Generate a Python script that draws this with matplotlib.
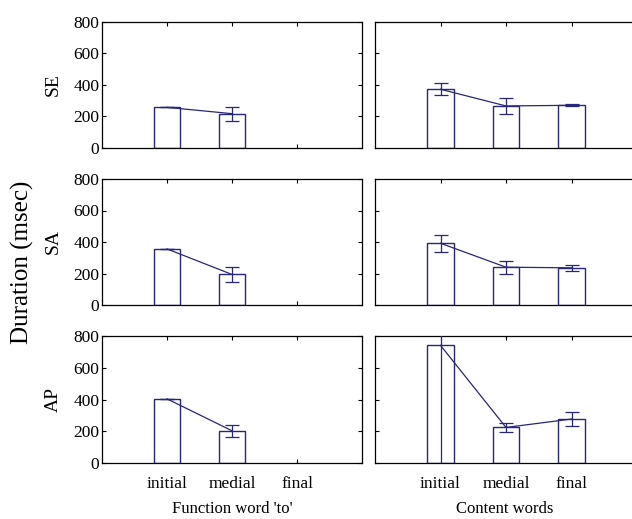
import matplotlib.pyplot as plt

# DATA
positions = ['initial', 'medial', 'final']
speakers = ['SE', 'SA', 'AP']

func_means = {'SE': [258, 218], 'SA': [356, 194], 'AP': [404, 203]}
func_errs = {'SE': [0, 44], 'SA': [0, 45], 'AP': [0, 37]}

cont_means = {'SE': [373, 267, 271], 'SA': [392, 240, 236], 'AP': [741, 224, 277]}
cont_errs = {'SE': [37, 48, 6], 'SA': [55, 42, 21], 'AP': [770, 27, 45]}

yticks = [0, 200, 400, 600, 800]
NAVY = '#26267a'

plt.rcParams['font.family'] = ['Liberation Serif', 'DejaVu Serif']
plt.rcParams['font.size'] = 12.5

fig = plt.figure(figsize=(6.32, 5.19), dpi=100)
W, H = 632.0, 519.0
left_x = (102, 362)
right_x = (375, 637)
rows_y = [(22, 148), (179, 305), (336, 463)]


def draw_panel(ax, means, errs):
    xs = list(range(1, len(means) + 1))
    ax.bar(xs, means, width=0.4, facecolor='white', edgecolor=NAVY, linewidth=1.0, zorder=2)
    ax.errorbar(xs, means, yerr=errs, color=NAVY, linewidth=0.9, capsize=5,
                capthick=0.9, zorder=3)
    ax.set_xlim(0, 4)
    ax.set_ylim(0, 800)
    ax.set_xticks([1, 2, 3])
    ax.set_yticks(yticks)
    ax.tick_params(direction='in', top=True, right=True, length=3, width=0.8, pad=2)
    for s in ax.spines.values():
        s.set_linewidth(0.9)


for i, sp in enumerate(speakers):
    y0, y1 = rows_y[i]
    axl = fig.add_axes([left_x[0] / W, 1 - y1 / H, (left_x[1] - left_x[0]) / W, (y1 - y0) / H])
    axr = fig.add_axes([right_x[0] / W, 1 - y1 / H, (right_x[1] - right_x[0]) / W, (y1 - y0) / H])
    draw_panel(axl, func_means[sp], func_errs[sp])
    draw_panel(axr, cont_means[sp], cont_errs[sp])
    axl.set_ylabel(sp, fontsize=14, labelpad=8)
    axr.set_yticklabels([])
    if i < 2:
        axl.set_xticklabels([])
        axr.set_xticklabels([])
    else:
        axl.set_xticklabels(positions)
        axr.set_xticklabels(positions)
        axl.tick_params(axis='x', pad=9)
        axr.tick_params(axis='x', pad=9)

fig.text(232 / W, 1 - 509 / H, "Function word 'to'", fontsize=12, ha='center', va='center')
fig.text(505 / W, 1 - 509 / H, 'Content words', fontsize=12, ha='center', va='center')
fig.text(22 / W, 1 - 262 / H, 'Duration (msec)', rotation=90, fontsize=18,
         ha='center', va='center')

plt.savefig('out.png', dpi=100)
